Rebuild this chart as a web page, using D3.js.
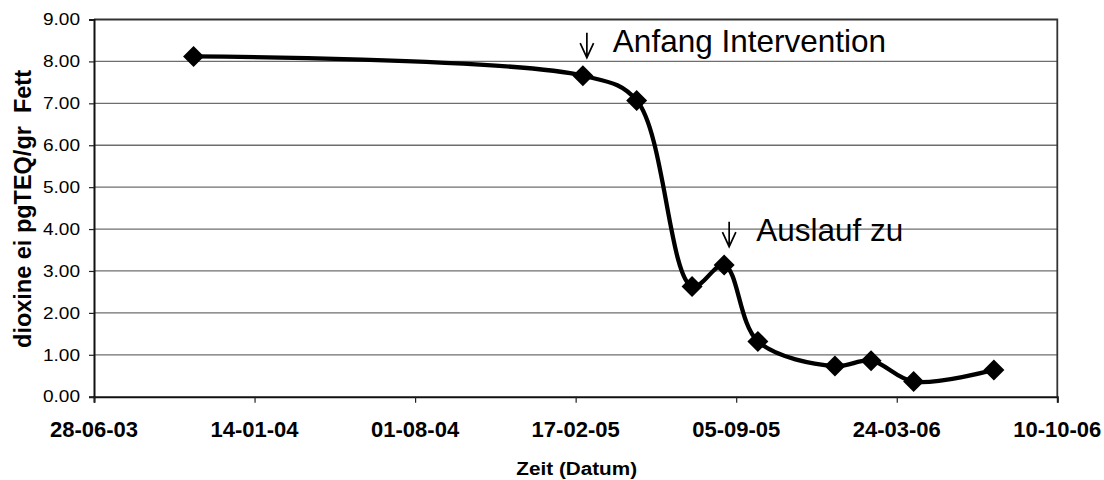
<!DOCTYPE html>
<html>
    <head>
        <style>
            body { margin: 0; background: #fff; }
            text { font-family: "Liberation Sans", Arial, sans-serif; fill: #000; }
            .grid line { stroke: #6e6e6e; stroke-width: 1.3; }
            .xlab { font-weight: bold; font-size: 22px; text-anchor: middle; }
            .ylab { font-size: 16px; text-anchor: end; }
            .note { font-size: 31.5px; }
            .arrow { fill: none; stroke: #000; stroke-width: 1.7; }
        </style>
    <script src="https://d3js.org/d3.v7.min.js"></script>
    <script>
        const dates = ["2003-10-30", "2005-02-26", "2005-05-04", "2005-07-12", "2005-08-21",
                       "2005-10-02", "2006-01-06", "2006-02-20", "2006-04-14", "2006-07-23"];
        const values = [8.12, 7.66, 7.07, 2.63, 3.14, 1.32, 0.73, 0.86, 0.36, 0.64];
        const xTickLabels = ["28-06-03", "14-01-04", "01-08-04", "17-02-05", "05-09-05", "24-03-06", "10-10-06"];
        const yTicks = [0, 1, 2, 3, 4, 5, 6, 7, 8, 9];
        const notes = ["Anfang Intervention", "Auslauf zu"];
        const noteAt = [1, 4];   // index of the point each note points to
        const xTitle = "Zeit (Datum)";
        const yTitle = "dioxine ei pgTEQ/gr  Fett";

        function load () {
            const width = 1104, height = 480;
            const left = 94, right = 1057.3, top = 19.5, bottom = 396.7;

            const parseIso = d3.utcParse("%Y-%m-%d");
            const parseTick = d3.utcParse("%d-%m-%y");
            const tickDates = xTickLabels.map(parseTick);

            const x = d3.scaleUtc()
                .domain([tickDates[0], tickDates[tickDates.length - 1]])
                .range([left, right]);
            const y = d3.scaleLinear().domain([0, 9]).range([bottom, top]);

            const svg = d3.select('body').append('svg')
                .attr("width", width)
                .attr("height", height);

            // horizontal gridlines
            svg.append("g").attr("class", "grid")
                .selectAll("line").data(yTicks.slice(1, -1)).enter().append("line")
                .attr("x1", left).attr("x2", right)
                .attr("y1", d => y(d)).attr("y2", d => y(d));

            // frame: top and right borders
            svg.append("path")
                .attr("d", "M" + left + "," + y(9) + "H" + right + "V" + bottom)
                .attr("fill", "none").attr("stroke", "#333").attr("stroke-width", 1.8);

            // y axis
            const yAxis = svg.append("g").attr("transform", "translate(" + left + ",0)")
                .call(d3.axisLeft(y).tickValues(yTicks).tickSize(5).tickFormat(""));
            yAxis.select(".domain").attr("stroke", "#111").attr("stroke-width", 2);
            yAxis.selectAll(".tick line").attr("stroke", "#222").attr("stroke-width", 1.2);

            svg.append("g").selectAll("text").data(yTicks).enter().append("text")
                .attr("class", "ylab")
                .attr("transform", d => "translate(80," + y(d) + ") scale(1.19,1)")
                .attr("dy", "0.36em")
                .text(d => d3.format(".2f")(d));

            // x axis
            const xAxis = svg.append("g").attr("transform", "translate(0," + bottom + ")")
                .call(d3.axisBottom(x).tickValues(tickDates).tickSize(6).tickFormat(""));
            xAxis.select(".domain").attr("stroke", "#111").attr("stroke-width", 2);
            xAxis.selectAll(".tick line").attr("stroke", "#222").attr("stroke-width", 1.2);

            svg.append("g").selectAll("text").data(tickDates).enter().append("text")
                .attr("class", "xlab")
                .attr("x", d => x(d)).attr("y", 437.3)
                .text(d => d3.utcFormat("%d-%m-%y")(d));

            // axis titles
            svg.append("text")
                .attr("transform", "translate(576.7,475) scale(1.09,1)")
                .attr("text-anchor", "middle")
                .style("font-weight", "bold").style("font-size", "19px")
                .text(xTitle);
            svg.append("text")
                .attr("transform", "translate(31,209) scale(1.05,1) rotate(-90)")
                .attr("text-anchor", "middle")
                .style("font-weight", "bold").style("font-size", "23.5px")
                .style("white-space", "pre")
                .text(yTitle);

            // series
            const data = dates.map((d, i) => ({date: parseIso(d), value: values[i]}));
            const line = d3.line()
                .x(d => x(d.date))
                .y(d => y(d.value))
                .curve(d3.curveCatmullRom.alpha(0.5));
            svg.append("path").datum(data)
                .attr("d", line)
                .attr("fill", "none")
                .attr("stroke", "#000")
                .attr("stroke-width", 4.3)
                .attr("stroke-linejoin", "round");

            const r = 10.5;
            svg.append("g").selectAll("path").data(data).enter().append("path")
                .attr("transform", d => "translate(" + x(d.date) + "," + y(d.value) + ")")
                .attr("d", "M0," + (-r) + "L" + r + ",0L0," + r + "L" + (-r) + ",0Z")
                .attr("fill", "#000");

            // notes with arrows: [dx from point, text baseline, gap to text]
            const notePos = [[4, 51.7, 26], [5, 240.7, 27]];
            notes.forEach(function (t, i) {
                const p = data[noteAt[i]];
                const ax = x(p.date) + notePos[i][0];
                const base = notePos[i][1];
                svg.append("path").attr("class", "arrow")
                    .attr("d", "M" + ax + "," + (base - 19) + "V" + (base + 6) +
                        "M" + (ax - 6.7) + "," + (base - 8.5) + "L" + ax + "," + (base + 6) +
                        "L" + (ax + 6.7) + "," + (base - 8.5));
                svg.append("text").attr("class", "note")
                    .attr("x", ax + notePos[i][2]).attr("y", base)
                    .text(t);
            });
        }
    </script>
    </head>
    <body onload = "load()">
    </body>
</html>
